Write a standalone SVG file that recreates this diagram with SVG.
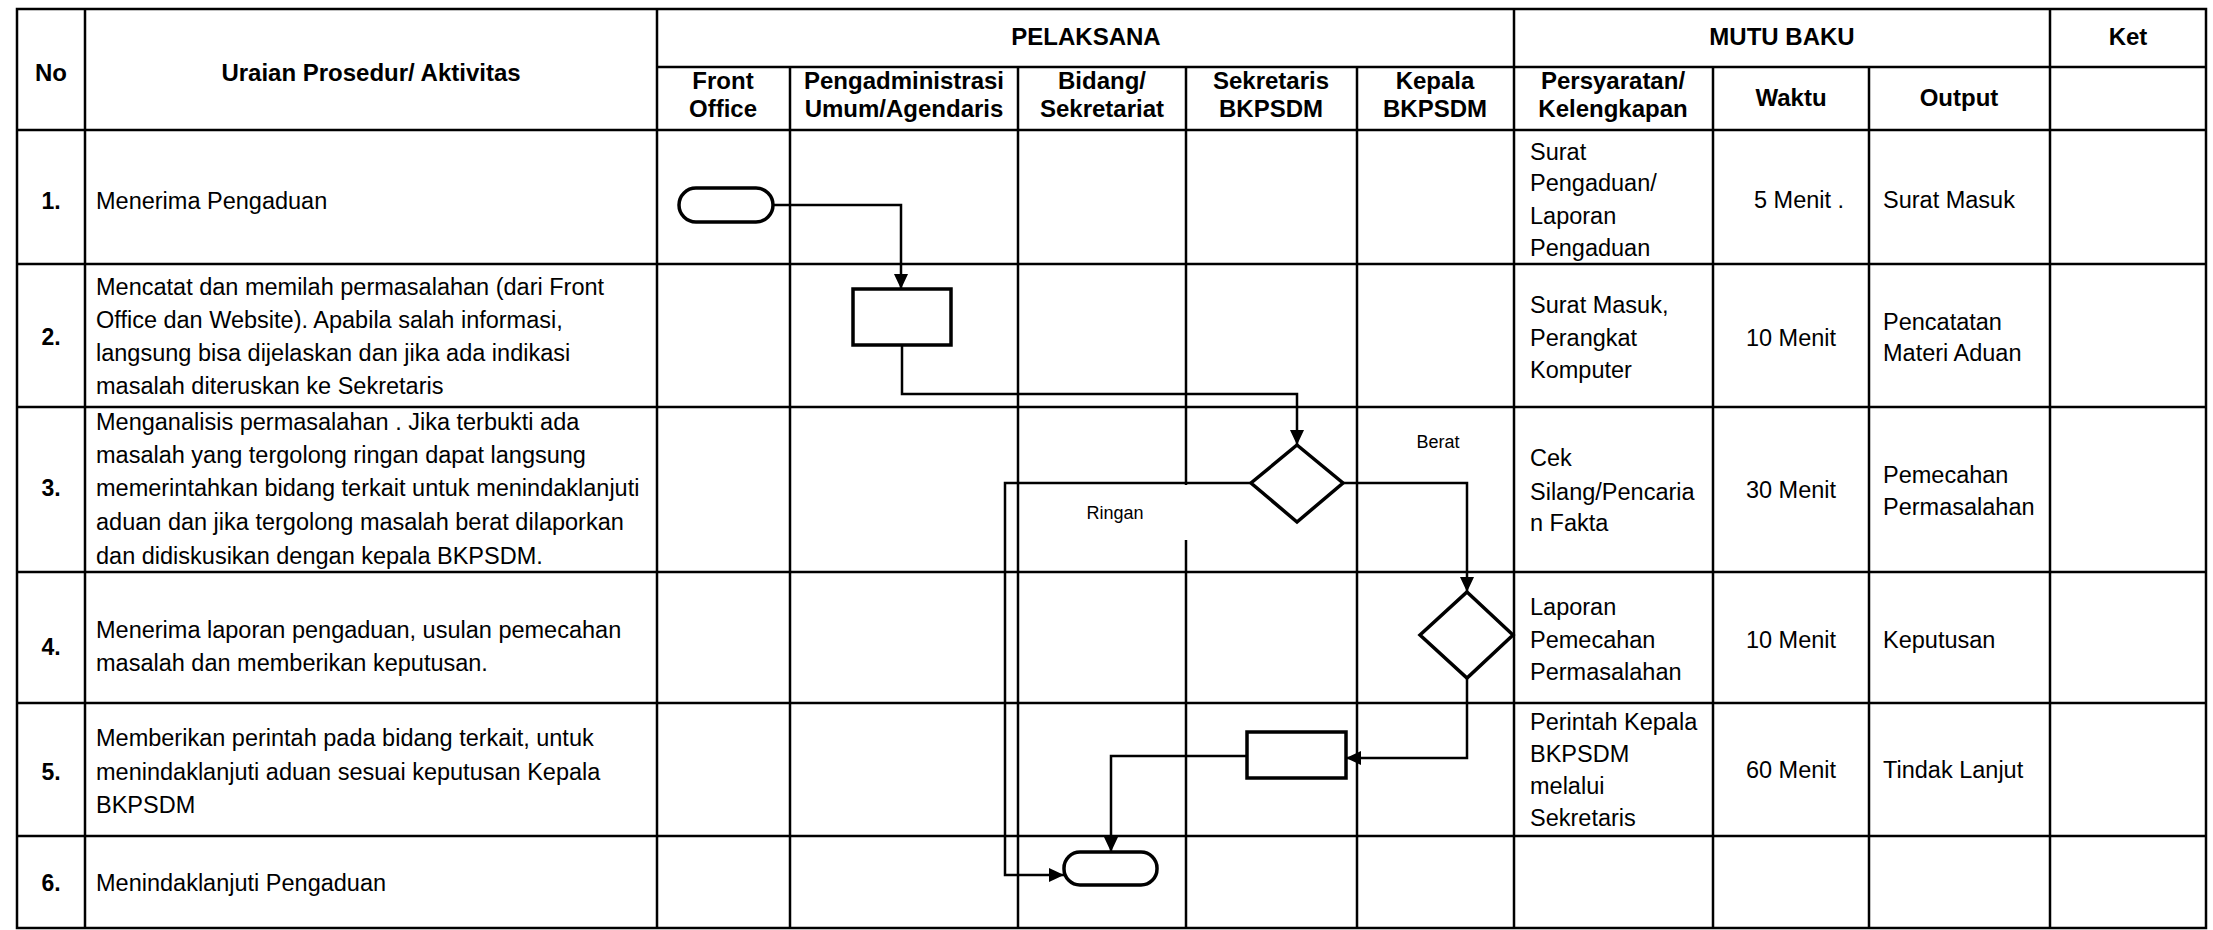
<svg xmlns="http://www.w3.org/2000/svg" width="2213" height="930" viewBox="0 0 2213 930">
<style>
.t{font-family:"Liberation Sans",Arial,sans-serif;font-size:23.5px;fill:#000}
.h{font-family:"Liberation Sans",Arial,sans-serif;font-size:24px;font-weight:bold;fill:#000}
.n{font-family:"Liberation Sans",Arial,sans-serif;font-size:23px;font-weight:bold;fill:#000;text-anchor:middle}
.l{font-family:"Liberation Sans",Arial,sans-serif;font-size:18px;fill:#000;text-anchor:middle}
.c{text-anchor:middle}
.g{stroke:#000;stroke-width:2.5;fill:none}
.s{stroke:#000;stroke-width:3.5;fill:#fff}
.k{stroke:#000;stroke-width:2.5;fill:none}
</style>
<defs>
<marker id="a" markerWidth="15" markerHeight="14" refX="15" refY="7" orient="auto" markerUnits="userSpaceOnUse"><path d="M0,0 L15,7 L0,14 z" fill="#000"/></marker>
</defs>
<rect width="2213" height="930" fill="#fff"/>
<g id="grid" class="g">
<rect x="17" y="9" width="2189" height="919"/>
<path d="M85,9V928M657,9V928M790,67V928M1018,67V928M1186,67V485M1186,540V928M1357,67V928M1514,9V928M1713,67V928M1869,67V928M2050,9V928"/>
<path d="M657,67H2206M17,130H2206M17,264H2206M17,407H2206M17,572H2206M17,703H2206M17,836H2206"/>
</g>
<g id="header">
<text class="h c" x="51" y="81">No</text>
<text class="h c" x="371" y="81">Uraian Prosedur/ Aktivitas</text>
<text class="h c" x="1086" y="45">PELAKSANA</text>
<text class="h c" x="1782" y="45">MUTU BAKU</text>
<text class="h c" x="2128" y="45">Ket</text>
<text class="h c" x="723" y="89">Front</text><text class="h c" x="723" y="117">Office</text>
<text class="h c" x="904" y="89">Pengadministrasi</text><text class="h c" x="904" y="117">Umum/Agendaris</text>
<text class="h c" x="1102" y="89">Bidang/</text><text class="h c" x="1102" y="117">Sekretariat</text>
<text class="h c" x="1271" y="89">Sekretaris</text><text class="h c" x="1271" y="117">BKPSDM</text>
<text class="h c" x="1435" y="89">Kepala</text><text class="h c" x="1435" y="117">BKPSDM</text>
<text class="h c" x="1613" y="89">Persyaratan/</text><text class="h c" x="1613" y="117">Kelengkapan</text>
<text class="h c" x="1791" y="106">Waktu</text>
<text class="h c" x="1959" y="106">Output</text>
</g>
<g id="rows">
<text class="n" x="51" y="209">1.</text>
<text class="t" x="96" y="209">Menerima Pengaduan</text>
<text class="n" x="51" y="345">2.</text>
<text class="t" x="96" y="295">Mencatat dan memilah permasalahan (dari Front</text>
<text class="t" x="96" y="328">Office dan Website). Apabila salah informasi,</text>
<text class="t" x="96" y="361">langsung bisa dijelaskan dan jika ada indikasi</text>
<text class="t" x="96" y="394">masalah diteruskan ke Sekretaris</text>
<text class="n" x="51" y="496">3.</text>
<text class="t" x="96" y="430">Menganalisis permasalahan . Jika terbukti ada</text>
<text class="t" x="96" y="463">masalah yang tergolong ringan dapat langsung</text>
<text class="t" x="96" y="496">memerintahkan bidang terkait untuk menindaklanjuti</text>
<text class="t" x="96" y="530">aduan dan jika tergolong masalah berat dilaporkan</text>
<text class="t" x="96" y="564">dan didiskusikan dengan kepala BKPSDM.</text>
<text class="n" x="51" y="655">4.</text>
<text class="t" x="96" y="638">Menerima laporan pengaduan, usulan pemecahan</text>
<text class="t" x="96" y="671">masalah dan memberikan keputusan.</text>
<text class="n" x="51" y="780">5.</text>
<text class="t" x="96" y="746">Memberikan perintah pada bidang terkait, untuk</text>
<text class="t" x="96" y="780">menindaklanjuti aduan sesuai keputusan Kepala</text>
<text class="t" x="96" y="813">BKPSDM</text>
<text class="n" x="51" y="891">6.</text>
<text class="t" x="96" y="891">Menindaklanjuti Pengaduan</text>
</g>
<g id="mutu">
<text class="t" x="1530" y="160">Surat</text>
<text class="t" x="1530" y="191">Pengaduan/</text>
<text class="t" x="1530" y="224">Laporan</text>
<text class="t" x="1530" y="256">Pengaduan</text>
<text class="t" x="1754" y="208">5 Menit .</text>
<text class="t" x="1883" y="208">Surat Masuk</text>
<text class="t" x="1530" y="313">Surat Masuk,</text>
<text class="t" x="1530" y="346">Perangkat</text>
<text class="t" x="1530" y="378">Komputer</text>
<text class="t c" x="1791" y="346">10 Menit</text>
<text class="t" x="1883" y="330">Pencatatan</text>
<text class="t" x="1883" y="361">Materi Aduan</text>
<text class="t" x="1530" y="466">Cek</text>
<text class="t" x="1530" y="500">Silang/Pencaria</text>
<text class="t" x="1530" y="531">n Fakta</text>
<text class="t c" x="1791" y="498">30 Menit</text>
<text class="t" x="1883" y="483">Pemecahan</text>
<text class="t" x="1883" y="515">Permasalahan</text>
<text class="t" x="1530" y="615">Laporan</text>
<text class="t" x="1530" y="648">Pemecahan</text>
<text class="t" x="1530" y="680">Permasalahan</text>
<text class="t c" x="1791" y="648">10 Menit</text>
<text class="t" x="1883" y="648">Keputusan</text>
<text class="t" x="1530" y="730">Perintah Kepala</text>
<text class="t" x="1530" y="762">BKPSDM</text>
<text class="t" x="1530" y="794">melalui</text>
<text class="t" x="1530" y="826">Sekretaris</text>
<text class="t c" x="1791" y="778">60 Menit</text>
<text class="t" x="1883" y="778">Tindak Lanjut</text>
</g>
<g id="connectors" class="k">
<path d="M773,205H901V289" marker-end="url(#a)"/>
<path d="M902,345V394H1297V445" marker-end="url(#a)"/>
<path d="M1343,483H1467V592" marker-end="url(#a)"/>
<path d="M1467,678V758H1346" marker-end="url(#a)"/>
<path d="M1247,756H1111V852" marker-end="url(#a)"/>
<path d="M1251,483H1005V875H1064" marker-end="url(#a)"/>
<text class="l" x="1438" y="448" stroke="none">Berat</text>
<text class="l" x="1115" y="519" stroke="none">Ringan</text>
</g>
<g id="start"><rect class="s" x="679" y="188" width="94" height="34" rx="17"/></g>
<g id="p1"><rect class="s" x="853" y="289" width="98" height="56"/></g>
<g id="d1"><polygon class="s" points="1297,445 1343,483 1297,522 1251,483"/></g>
<g id="d2"><polygon class="s" points="1467,592 1513,635 1467,678 1420,635"/></g>
<g id="p2"><rect class="s" x="1247" y="732" width="99" height="46"/></g>
<g id="end"><rect class="s" x="1064" y="852" width="93" height="33" rx="16"/></g>
</svg>
